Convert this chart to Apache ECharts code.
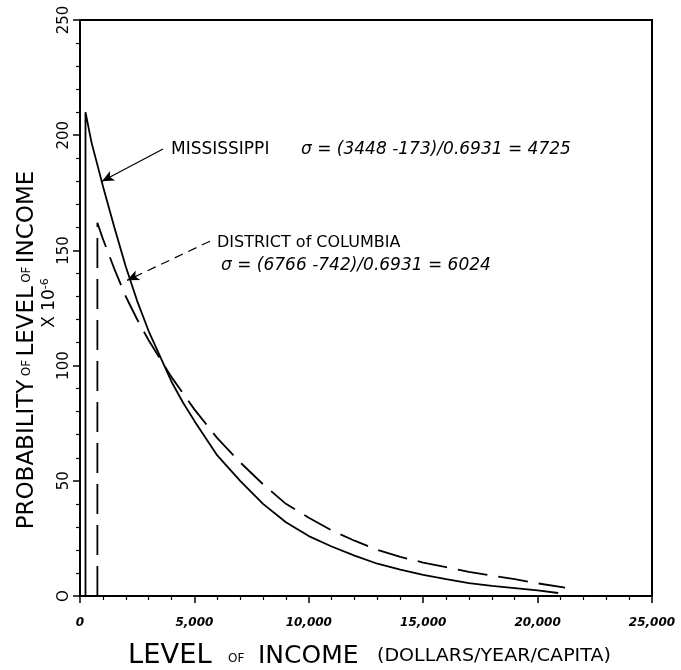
<!DOCTYPE html>
<html>
<head>
<meta charset="utf-8">
<script src="https://cdn.jsdelivr.net/npm/echarts@6/dist/echarts.min.js"></script>
<style>
  html, body { margin: 0; padding: 0; background: #fff; }
  #chart { width: 681px; height: 670px; }
</style>
</head>
<body>
<div id="chart"></div>
<script>
// tick labels
const xTickLabels = { 0: '0', 5000: '5,000', 10000: '10,000', 15000: '15,000', 20000: '20,000', 25000: '25,000' }
const yTickLabels = { 0: 'O', 50: '50', 100: '100', 150: '150', 200: '200', 250: '250' }

// Mississippi (solid), income in $/yr, probability x 1e-6
const msIncome = [240, 240, 500, 1000, 1500, 2000, 2500, 3000, 3500, 4000, 4500, 5000, 6000, 7000, 8000, 9000, 10000, 11000, 12000, 13000, 14000, 15000, 16000, 17000, 18000, 19000, 20000, 20900]
const msProb = [0, 210, 197, 178, 160, 143, 128, 115, 104, 93, 84, 76, 61, 50, 40, 32, 26, 21.5, 17.5, 14, 11.5, 9.2, 7.3, 5.6, 4.4, 3.4, 2.4, 1.3]

// District of Columbia (dashed)
const dcIncome = [760, 760, 1000, 1500, 2000, 2500, 3000, 3500, 4000, 4500, 5000, 6000, 7000, 8000, 9000, 10000, 11000, 12000, 13000, 14000, 15000, 16000, 17000, 18000, 19000, 20000, 21200]
const dcProb = [0, 162, 155, 142, 130, 120, 111, 103, 95, 88, 81, 68.5, 58, 48.5, 40, 34, 28.5, 24, 20, 17, 14.5, 12.5, 10.5, 8.8, 7.3, 5.5, 3.6]

const chart = echarts.init(document.getElementById('chart'))

const txt = { color: '#000', fontFamily: 'DejaVu Sans' }

chart.setOption({
  backgroundColor: '#fff',
  animation: false,
  grid: {
    left: 80, right: 29, top: 20, bottom: 74,
    show: true, borderColor: '#000', borderWidth: 2
  },
  xAxis: {
    type: 'value', min: 0, max: 25000, interval: 5000,
    axisLine: { onZero: false, lineStyle: { color: '#000', width: 2 } },
    axisTick: { length: 7, lineStyle: { color: '#000', width: 1.5 } },
    minorTick: { show: true, splitNumber: 5, length: 4, lineStyle: { color: '#000', width: 1.2 } },
    splitLine: { show: false },
    axisLabel: {
      ...txt, fontSize: 12, fontStyle: 'italic', fontWeight: 'bold', margin: 21,
      formatter: v => xTickLabels[v] ?? ''
    }
  },
  yAxis: {
    type: 'value', min: 0, max: 250, interval: 50,
    axisLine: { onZero: false, lineStyle: { color: '#000', width: 2 } },
    axisTick: { length: 7, lineStyle: { color: '#000', width: 1.5 } },
    minorTick: { show: true, splitNumber: 5, length: 4, lineStyle: { color: '#000', width: 1.2 } },
    splitLine: { show: false },
    axisLabel: {
      ...txt, fontSize: 15, rotate: 90, margin: 8,
      formatter: v => yTickLabels[v] ?? ''
    }
  },
  graphic: [
    {
      type: 'text', x: 27, y: 350, rotation: Math.PI / 2,
      style: {
        text: '{big|PROBABILITY} {sm|OF} {big|LEVEL} {sm|OF} {big|INCOME}',
        align: 'center', verticalAlign: 'middle',
        rich: {
          big: { ...txt, fontSize: 23 },
          sm: { ...txt, fontSize: 12 }
        }
      }
    },
    {
      type: 'text', x: 50, y: 303, rotation: Math.PI / 2,
      style: {
        text: '{a|X 10}{b|-6}',
        align: 'center', verticalAlign: 'middle',
        rich: {
          a: { ...txt, fontSize: 17 },
          b: { ...txt, fontSize: 11, verticalAlign: 'top', padding: [0, 0, 10, 0] }
        }
      }
    },
    // x axis title, pieces placed like the hand lettering
    { type: 'text', x: 128, y: 656, scaleX: 1.05, style: { ...txt, text: 'LEVEL', fontSize: 26, verticalAlign: 'middle' } },
    { type: 'text', x: 228, y: 659, style: { ...txt, text: 'OF', fontSize: 12, verticalAlign: 'middle' } },
    { type: 'text', x: 258, y: 656, style: { ...txt, text: 'INCOME', fontSize: 25, verticalAlign: 'middle' } },
    { type: 'text', x: 377, y: 657, scaleX: 1.12, style: { ...txt, text: '(DOLLARS/YEAR/CAPITA)', fontSize: 17, verticalAlign: 'middle' } },
    // annotations
    { type: 'text', x: 171, y: 150, style: { ...txt, text: 'MISSISSIPPI', fontSize: 17, verticalAlign: 'middle' } },
    { type: 'text', x: 301, y: 150, style: { ...txt, text: 'σ = (3448 -173)/0.6931 = 4725', fontSize: 17, fontStyle: 'italic', verticalAlign: 'middle' } },
    { type: 'text', x: 217, y: 243, style: { ...txt, text: 'DISTRICT of COLUMBIA', fontSize: 16, verticalAlign: 'middle' } },
    { type: 'text', x: 221, y: 266, style: { ...txt, text: 'σ = (6766 -742)/0.6931 = 6024', fontSize: 17, fontStyle: 'italic', verticalAlign: 'middle' } }
  ],
  series: [
    {
      name: 'Mississippi', type: 'line',
      data: msIncome.map((x, i) => [x, msProb[i]]),
      showSymbol: false, smooth: false,
      lineStyle: { color: '#000', width: 1.8 },
      markLine: {
        silent: true, symbol: ['none', 'arrow'], symbolSize: [8, 12],
        label: { show: false },
        lineStyle: { color: '#000', width: 1.2, type: 'solid' },
        data: [[{ coord: [3630, 194] }, { coord: [960, 180] }]]
      }
    },
    {
      name: 'District of Columbia', type: 'line',
      data: dcIncome.map((x, i) => [x, dcProb[i]]),
      showSymbol: false, smooth: false,
      lineStyle: { color: '#000', width: 1.8, type: [30, 11] },
      markLine: {
        silent: true, symbol: ['none', 'arrow'], symbolSize: [8, 12],
        label: { show: false },
        lineStyle: { color: '#000', width: 1.2, type: [9, 6] },
        data: [[{ coord: [5680, 154] }, { coord: [2060, 137] }]]
      }
    }
  ]
})
</script>
</body>
</html>
